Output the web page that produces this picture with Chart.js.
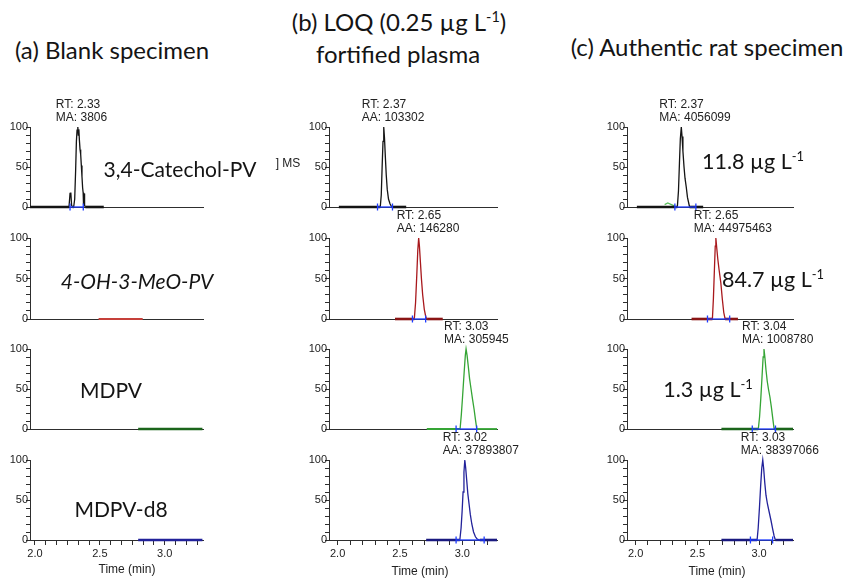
<!DOCTYPE html>
<html>
<head>
<meta charset="utf-8">
<script src="https://cdn.jsdelivr.net/npm/chart.js@4.4.1/dist/chart.umd.min.js"></script>
<style>
  html, body { margin: 0; padding: 0; background: #fff; }
  #page { position: relative; width: 849px; height: 579px; overflow: hidden; background: #fff; }
  #page canvas { position: absolute; }
  .t { position: absolute; white-space: nowrap; line-height: 1; color: #141414;
       font-family: Lato, "Open Sans", sans-serif; transform: translate(-50%, -50%); }
  .title { font-size: 24px; }
  .big { font-size: 21px; }
  .conc { font-size: 21.5px; }
  .it { font-style: italic; }
  .small { font-family: "Liberation Sans", Arial, sans-serif; font-size: 12px; color: #222; }
  .sup { font-size: 0.6em; position: relative; top: -0.62em; }
</style>
</head>
<body>
<div id="page"></div>
<script>
// ---- text content ----
const analytes = ['3,4-Catechol-PV', '4-OH-3-MeO-PV', 'MDPV', 'MDPV-d8'];
const loqLevel = 0.25;                 // µg/L, fortified plasma
const ratConcentrations = [11.8, 84.7, 1.3]; // µg/L, rows 1-3 of the rat specimen
const xTickLabels = ['2.0', '2.5', '3.0'];
const xLabelValues = [2.0, 2.5, 3.0];
const yTickLabels = ['0', '50', '100'];
const yLabelValues = [0, 50, 100];
const xTitle = 'Time (min)';

// ---- peak annotations (retention time, area) ----
const rtA = [2.33, null, null, null];
const areaA = ['MA: 3806', '', '', ''];
const rtB = [2.37, 2.65, 3.03, 3.02];
const areaB = ['AA: 103302', 'AA: 146280', 'MA: 305945', 'AA: 37893807'];
const rtC = [2.37, 2.65, 3.04, 3.03];
const areaC = ['MA: 4056099', 'MA: 44975463', 'MA: 1008780', 'MA: 38397066'];

// ---- (a) blank specimen traces: time (min) / relative abundance (%) ----
const timeA1 = [1.962, 2.24, 2.262, 2.27, 2.276, 2.282, 2.29, 2.298, 2.306, 2.313, 2.319, 2.324, 2.33, 2.334, 2.338, 2.342, 2.347, 2.352, 2.357, 2.362, 2.367, 2.371, 2.374, 2.378, 2.382, 2.388, 2.45, 2.53];
const intA1  = [0, 0, 0, 17, 18, 2, 0, 0, 10, 45, 82, 96, 100, 90, 97, 84, 72, 66, 52, 38, 24, 18, 3, 17, 2, 0, 0, 0];
const markA1 = [2.27, 2.372];
const timeA2 = [2.49, 2.83];
const intA2  = [0, 0];
const timeA3 = [2.795, 3.29];
const intA3  = [0, 0];
const timeA4 = [2.795, 3.29];
const intA4  = [0, 0];

// ---- (b) LOQ fortified plasma traces ----
const timeB1 = [2.01, 2.30, 2.342, 2.35, 2.357, 2.364, 2.37, 2.376, 2.383, 2.39, 2.398, 2.408, 2.42, 2.434, 2.45, 2.55];
const intB1  = [0, 0, 0, 15, 50, 82, 100, 86, 62, 40, 22, 10, 4, 0, 0, 0];
const markB1 = [2.32, 2.44];
const timeB2 = [2.46, 2.60, 2.615, 2.625, 2.635, 2.643, 2.65, 2.656, 2.664, 2.672, 2.682, 2.695, 2.708, 2.718, 2.843];
const intB2  = [0, 0, 0, 20, 55, 85, 100, 90, 70, 50, 30, 12, 2, 0, 0];
const markB2 = [2.60, 2.706];
const timeB3 = [2.715, 2.95, 2.982, 2.992, 3.0, 3.008, 3.016, 3.024, 3.03, 3.038, 3.048, 3.058, 3.07, 3.082, 3.094, 3.105, 3.116, 3.278];
const intB3  = [0, 0, 0, 18, 36, 55, 74, 92, 100, 92, 78, 63, 50, 37, 25, 12, 0, 0];
const markB3 = [2.95, 3.115];
const timeB4 = [2.71, 2.95, 2.98, 2.99, 2.998, 3.006, 3.013, 3.02, 3.027, 3.035, 3.044, 3.054, 3.064, 3.076, 3.09, 3.105, 3.12, 3.14, 3.278];
const intB4  = [0, 0, 0, 15, 35, 60, 85, 100, 90, 75, 58, 45, 32, 20, 10, 4, 1, 0, 0];
const markB4 = [2.95, 3.175];

// ---- (c) authentic rat specimen traces ----
const timeC1 = [2.01, 2.30, 2.338, 2.347, 2.355, 2.362, 2.37, 2.376, 2.383, 2.392, 2.40, 2.41, 2.42, 2.437, 2.46, 2.547];
const intC1  = [0, 0, 0, 20, 55, 85, 100, 88, 70, 50, 36, 25, 12, 0, 0, 0];
const markC1 = [2.318, 2.488];
const timeC1b = [2.235, 2.26, 2.29, 2.318];
const intC1b  = [3, 5, 3, 1];
const timeC2 = [2.453, 2.60, 2.622, 2.63, 2.638, 2.645, 2.65, 2.657, 2.665, 2.675, 2.69, 2.702, 2.714, 2.725, 2.829];
const intC2  = [0, 0, 0, 25, 60, 90, 100, 88, 75, 62, 45, 25, 8, 0, 0];
const markC2 = [2.582, 2.762];
const timeC3 = [2.695, 2.945, 2.994, 3.004, 3.014, 3.024, 3.033, 3.04, 3.047, 3.056, 3.066, 3.076, 3.088, 3.1, 3.112, 3.122, 3.275];
const intC3  = [0, 0, 0, 15, 38, 65, 90, 100, 90, 74, 60, 50, 40, 27, 12, 0, 0];
const markC3 = [2.945, 3.133];
const timeC4 = [2.695, 2.93, 2.984, 2.993, 3.003, 3.013, 3.022, 3.03, 3.037, 3.046, 3.056, 3.068, 3.082, 3.096, 3.11, 3.122, 3.132, 3.275];
const intC4  = [0, 0, 0, 15, 40, 68, 90, 100, 90, 72, 56, 45, 35, 25, 14, 5, 0, 0];
const markC4 = [2.93, 3.11];

// ---- layout (pixels) ----
const colAxis  = [[30, 203], [329, 497], [627, 793]];
const rowBox   = [[127, 207], [238, 319], [349, 429], [460, 540]];
const colRange = [[1.9615, 3.2946], [1.931, 3.278], [1.93, 3.275]];
const colTickStep = [1 / 12, 0.1, 0.1];
const PAD_L = 40, PAD_T = 40, PAD_R = 60, X_H = 45;
const FONT = '"Liberation Sans", Arial, sans-serif';
const AXIS = '#2e2e2e';
const MARK = '#1e3cff';

const page = document.getElementById('page');

// RT / area label written above each integrated peak
const peakLabel = {
  id: 'peakLabel',
  afterDatasetsDraw(chart, args, o) {
    if (!o || o.rt == null) return;
    const { ctx, scales: { x, y } } = chart;
    const px = x.getPixelForValue(o.rt) - 22;
    const top = y.getPixelForValue(100);
    ctx.save();
    ctx.font = '12px ' + FONT;
    ctx.fillStyle = '#222';
    ctx.textAlign = 'left';
    ctx.textBaseline = 'middle';
    ctx.fillText('RT: ' + o.rt.toFixed(2), px, top - 22);
    ctx.fillText(o.area, px, top - 9);
    ctx.restore();
  }
};

function toXY(t, v) { return t.map((x, i) => ({ x, y: v[i] })); }

function traceSet(t, v, color, baseColor, baseWidth) {
  const data = toXY(t, v);
  const flat = c => data[c.p0DataIndex].y === 0 && data[c.p1DataIndex].y === 0;
  return {
    data, borderColor: color, borderWidth: 1.3, pointRadius: 0, clip: 6,
    segment: {
      borderColor: c => flat(c) ? baseColor : color,
      borderWidth: c => flat(c) ? baseWidth : 1.3
    }
  };
}

function markerSet(m) {
  return {
    data: m.map(x => ({ x, y: 0 })), borderColor: MARK, borderWidth: 1.3,
    pointStyle: 'line', pointRotation: 90, pointRadius: 3.5,
    pointBorderColor: MARK, pointBorderWidth: 1.3, clip: 6
  };
}

function near(v, list) { return list.findIndex(l => Math.abs(l - v) < 1e-6); }

function makePanel(col, row, datasets, peak) {
  const [ax, ar] = colAxis[col], [ty, by] = rowBox[row], [xmin, xmax] = colRange[col];
  const w = (ar - ax) + PAD_L + PAD_R, h = (by - ty) + PAD_T + X_H;
  const cv = document.createElement('canvas');
  cv.width = w; cv.height = h;
  cv.style.width = w + 'px'; cv.style.height = h + 'px';
  cv.style.left = (ax - PAD_L) + 'px'; cv.style.top = (ty - PAD_T) + 'px';
  page.appendChild(cv);
  const bottom = row === 3;
  const step = colTickStep[col];
  const xTicks = [];
  for (let k = 0; 2 + k * step <= xmax + 1e-9; k++) xTicks.push(2 + k * step);
  const yTicks = [];
  for (let v = 0; v <= 100; v += 10) yTicks.push(v);

  new Chart(cv, {
    type: 'line',
    data: { datasets },
    plugins: [peakLabel],
    options: {
      responsive: false, animation: false, events: [], devicePixelRatio: 1,
      layout: { padding: { left: 0, top: PAD_T, right: PAD_R, bottom: 0 } },
      plugins: { legend: { display: false }, tooltip: { enabled: false }, peakLabel: peak },
      scales: {
        x: {
          type: 'linear', min: xmin, max: xmax,
          afterFit: s => { s.height = X_H; },
          afterBuildTicks: s => { s.ticks = xTicks.map(v => ({ value: v })); },
          grid: { display: bottom, drawOnChartArea: false, drawTicks: true, tickLength: 5, color: AXIS, lineWidth: 1 },
          border: { display: true, color: AXIS, width: 1 },
          ticks: {
            display: bottom, autoSkip: false, maxRotation: 0, padding: 2,
            font: { family: FONT, size: 11 }, color: '#222',
            callback: v => { const k = near(v, xLabelValues); return k < 0 ? '' : xTickLabels[k]; }
          }
        },
        y: {
          type: 'linear', min: 0, max: 100,
          afterFit: s => { s.width = PAD_L; },
          afterBuildTicks: s => { s.ticks = yTicks.map(v => ({ value: v })); },
          grid: { drawOnChartArea: false, drawTicks: true, tickLength: 4, color: AXIS, lineWidth: 1 },
          border: { display: true, color: AXIS, width: 1 },
          ticks: {
            autoSkip: false, padding: -2, font: { family: FONT, size: 11 }, color: '#222',
            callback: v => { const k = near(v, yLabelValues); return k < 0 ? '' : yTickLabels[k]; }
          }
        }
      }
    }
  });
}

const BLACK = '#141414', RED = '#a8181c', RED_LIGHT = '#c6403a', GREEN = '#35a535',
      GREEN_DARK = '#1b651b', NAVY = '#22229a';

// (a) blank specimen
makePanel(0, 0, [markerSet(markA1), traceSet(timeA1, intA1, BLACK, BLACK, 2.6)], { rt: rtA[0], area: areaA[0] });
makePanel(0, 1, [traceSet(timeA2, intA2, RED_LIGHT, RED_LIGHT, 2.2)], {});
makePanel(0, 2, [traceSet(timeA3, intA3, GREEN_DARK, GREEN_DARK, 2.4)], {});
makePanel(0, 3, [traceSet(timeA4, intA4, NAVY, NAVY, 2.4)], {});

// (b) LOQ fortified plasma
makePanel(1, 0, [markerSet(markB1), traceSet(timeB1, intB1, BLACK, BLACK, 2.6)], { rt: rtB[0], area: areaB[0] });
makePanel(1, 1, [markerSet(markB2), traceSet(timeB2, intB2, RED, '#8a1414', 2.6)], { rt: rtB[1], area: areaB[1] });
makePanel(1, 2, [markerSet(markB3), traceSet(timeB3, intB3, GREEN, GREEN, 1.8)], { rt: rtB[2], area: areaB[2] });
makePanel(1, 3, [markerSet(markB4), traceSet(timeB4, intB4, NAVY, '#1a1a80', 2.6)], { rt: rtB[3], area: areaB[3] });

// (c) authentic rat specimen
makePanel(2, 0, [markerSet(markC1), traceSet(timeC1, intC1, BLACK, BLACK, 2.6),
                 traceSet(timeC1b, intC1b, '#5cbf5c', '#5cbf5c', 1)], { rt: rtC[0], area: areaC[0] });
makePanel(2, 1, [markerSet(markC2), traceSet(timeC2, intC2, RED, '#8a1414', 2.6)], { rt: rtC[1], area: areaC[1] });
makePanel(2, 2, [markerSet(markC3), traceSet(timeC3, intC3, GREEN, GREEN_DARK, 2.6)], { rt: rtC[2], area: areaC[2] });
makePanel(2, 3, [markerSet(markC4), traceSet(timeC4, intC4, NAVY, '#1a1a80', 2.4)], { rt: rtC[3], area: areaC[3] });

// ---- free text ----
function addText(html, cx, cy, cls) {
  const d = document.createElement('div');
  d.className = 't ' + cls;
  d.innerHTML = html;
  d.style.left = cx + 'px';
  d.style.top = cy + 'px';
  page.appendChild(d);
}
const unit = ' µg L<span class="sup">-1</span>';

addText('(a) Blank specimen', 112, 50, 'title');
addText('(b) LOQ (' + loqLevel + unit + ')', 399, 22, 'title');
addText('fortified plasma', 398, 54, 'title');
addText('(c) Authentic rat specimen', 707, 47, 'title');

addText(analytes[0], 180, 168, 'big');
addText(analytes[1], 137, 280, 'big it');
addText(analytes[2], 111, 389, 'big');
addText(analytes[3], 121, 508, 'big');

addText(ratConcentrations[0] + unit, 753, 162, 'conc');
addText(ratConcentrations[1] + unit, 773, 280, 'conc');
addText(ratConcentrations[2] + unit, 708, 390, 'conc');

addText('] MS', 288, 163, 'small');
addText(xTitle, 127, 569, 'small');
addText(xTitle, 420, 571, 'small');
addText(xTitle, 717, 571, 'small');
</script>
</body>
</html>
